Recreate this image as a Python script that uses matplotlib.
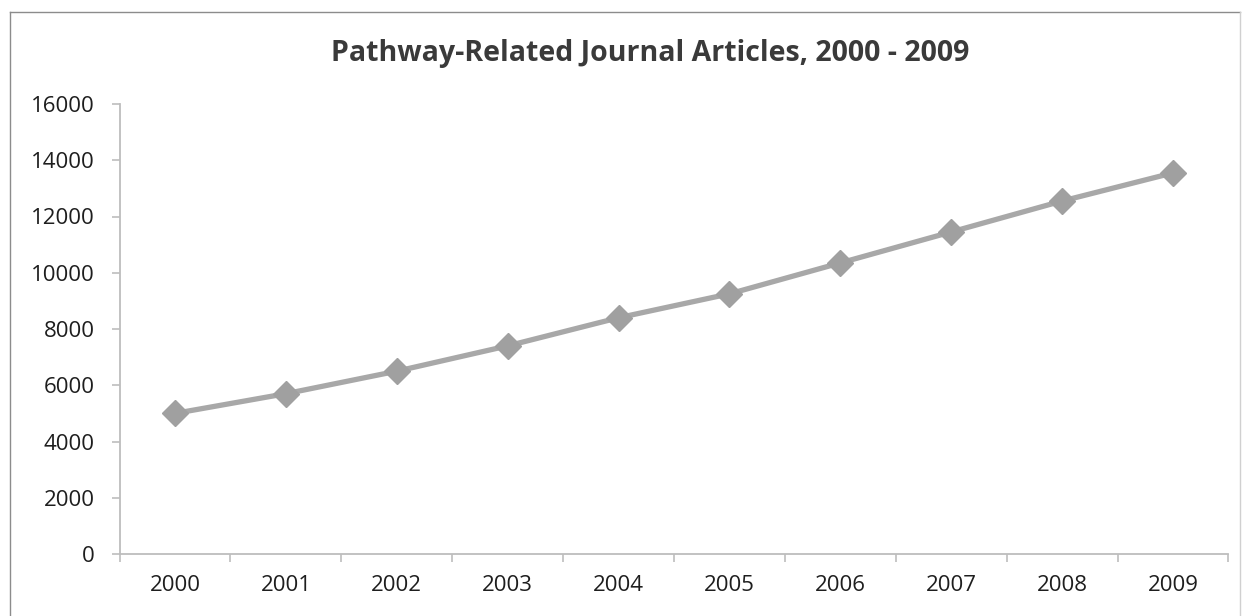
import matplotlib
matplotlib.use("Agg")
import matplotlib.pyplot as plt
from matplotlib.lines import Line2D
from matplotlib.ticker import FixedLocator, NullFormatter

# Data
years = ["2000", "2001", "2002", "2003", "2004", "2005", "2006", "2007", "2008", "2009"]
articles = [5000, 5700, 6500, 7400, 8400, 9250, 10350, 11450, 12550, 13550]
y_ticks = [0, 2000, 4000, 6000, 8000, 10000, 12000, 14000, 16000]
title = "Pathway-Related Journal Articles, 2000 - 2009"

plt.rcParams["font.family"] = ["Open Sans", "DejaVu Sans"]

W, H = 1243, 616
fig = plt.figure(figsize=(W / 100, H / 100), dpi=100)
fig.patch.set_facecolor("white")

# plot area in pixel coordinates
left_px, right_px, top_px, bottom_px = 119.6, 1228.4, 104, 554
ax = fig.add_axes([left_px / W, 1 - bottom_px / H,
                   (right_px - left_px) / W, (bottom_px - top_px) / H])

x = list(range(len(years)))
ax.plot(x, articles, color="#a8a8a8", linewidth=3.8, solid_capstyle="round",
        marker="D", markersize=13, markerfacecolor="#a0a0a0",
        markeredgecolor="#a0a0a0", zorder=3, clip_on=False)

ax.set_xlim(-0.5, len(years) - 0.5)
ax.set_ylim(0, 16000)

# y axis
ax.set_yticks(y_ticks)
ax.set_yticklabels([str(v) for v in y_ticks])

# x axis: tick marks between categories, labels centred on categories
ax.xaxis.set_major_locator(FixedLocator([i - 0.5 for i in range(len(years) + 1)]))
ax.xaxis.set_major_formatter(NullFormatter())
ax.xaxis.set_minor_locator(FixedLocator(x))
ax.set_xticklabels(years, minor=True)

axis_color = "#bdbdbd"
for side in ("top", "right"):
    ax.spines[side].set_visible(False)
for side in ("left", "bottom"):
    ax.spines[side].set_color(axis_color)
    ax.spines[side].set_linewidth(1.3)

ax.tick_params(axis="y", which="major", direction="out", length=6, width=1.2,
               color=axis_color, labelsize=16, labelcolor="#1e1e1e", pad=12)
ax.tick_params(axis="x", which="major", direction="out", length=6, width=1.2,
               color=axis_color)
ax.tick_params(axis="x", which="minor", length=0, labelsize=16,
               labelcolor="#1e1e1e", pad=15)

fig.text(650 / W, 1 - 53 / H, title, ha="center", va="center",
         fontsize=20.5, fontweight="bold", color="#3a3a3a")

# outer chart border
border = "#8c8c8c"
fig.add_artist(Line2D([10 / W, 1240 / W], [1 - 12 / H, 1 - 12 / H],
                      transform=fig.transFigure, color=border, linewidth=1.0))
fig.add_artist(Line2D([10 / W, 10 / W], [1 - 12 / H, 0],
                      transform=fig.transFigure, color=border, linewidth=1.0))
fig.add_artist(Line2D([1240 / W, 1240 / W], [1 - 12 / H, 0],
                      transform=fig.transFigure, color="#d0d0d0", linewidth=1.0))

fig.savefig("out.png", dpi=100, facecolor="white")
